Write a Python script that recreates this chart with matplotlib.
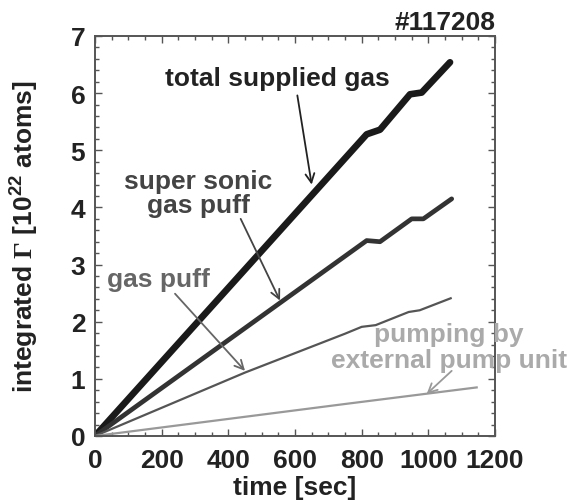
import matplotlib
matplotlib.use("Agg")
import matplotlib.pyplot as plt
from matplotlib.ticker import MultipleLocator

plt.rcParams["font.family"] = ["Liberation Sans", "DejaVu Sans"]
plt.rcParams["font.weight"] = "bold"
plt.rcParams["mathtext.fontset"] = "custom"
plt.rcParams["mathtext.rm"] = "Liberation Serif"
plt.rcParams["mathtext.bf"] = "Liberation Sans:bold"

# ── data ───────────────────────────────────────────────
total_t = [0, 815, 855, 945, 980, 1065]
total_g = [0, 5.28, 5.36, 5.98, 6.01, 6.54]

sonic_t = [0, 815, 855, 950, 985, 1070]
sonic_g = [0, 3.42, 3.40, 3.80, 3.80, 4.15]

puff_t = [0, 450, 750, 800, 842, 941, 974, 1067]
puff_g = [0, 1.11, 1.79, 1.91, 1.94, 2.17, 2.20, 2.41]

pump_t = [0, 750, 995, 1145]
pump_g = [0, 0.56, 0.74, 0.85]

shot = "#117208"

FS = 19

fig = plt.figure(figsize=(5.73, 5.02), dpi=100)
ax = fig.add_axes([0.1658, 0.1295, 0.6981, 0.7968])

ax.plot(total_t, total_g, color="#1a1a1a", lw=4.8, solid_capstyle="round", solid_joinstyle="round")
ax.plot(sonic_t, sonic_g, color="#333333", lw=3.4, solid_capstyle="round", solid_joinstyle="round")
ax.plot(puff_t, puff_g, color="#555555", lw=1.6)
ax.plot(pump_t, pump_g, color="#999999", lw=1.6)

ax.set_xlim(0, 1200)
ax.set_ylim(0, 7)
ax.xaxis.set_major_locator(MultipleLocator(200))
ax.xaxis.set_minor_locator(MultipleLocator(50))
ax.yaxis.set_major_locator(MultipleLocator(1))
ax.yaxis.set_minor_locator(MultipleLocator(0.2))
ax.tick_params(which="both", direction="in", top=True, right=True, color="#555555", width=1.0)
ax.tick_params(which="major", length=5, labelsize=FS)
ax.tick_params(axis="x", which="major", pad=9)
ax.tick_params(axis="y", which="major", pad=7)
ax.tick_params(which="minor", length=3)
for s in ax.spines.values():
    s.set_color("#555555")
    s.set_linewidth(1.4)

ax.set_xlabel("time [sec]", fontsize=FS, fontweight="bold", color="#222222")
ax.set_ylabel(r"integrated $\Gamma$ [10$^{\mathbf{22}}$ atoms]", fontsize=FS,
              fontweight="bold", color="#222222")
ax.xaxis.set_label_coords(0.5, -0.098)
ax.yaxis.set_label_coords(-0.137, 0.5)
for lbl in ax.get_xticklabels() + ax.get_yticklabels():
    lbl.set_fontweight("bold")
    lbl.set_color("#222222")

# annotations
arrow = dict(arrowstyle="->", lw=1.3, shrinkA=0, shrinkB=0, mutation_scale=16)
ax.text(546, 6.27, "total supplied gas", fontsize=FS, fontweight="bold",
        color="#222222", ha="center", va="center")
ax.annotate("", xy=(650, 4.40), xytext=(607, 5.96),
            arrowprops=dict(arrow, color="#222222"))

ax.text(310, 4.25, "super sonic\ngas puff", fontsize=FS, fontweight="bold",
        color="#444444", ha="center", va="center", linespacing=1.0)
ax.annotate("", xy=(555, 2.37), xytext=(437, 3.80),
            arrowprops=dict(arrow, color="#444444"))

ax.text(190, 2.75, "gas puff", fontsize=FS, fontweight="bold",
        color="#666666", ha="center", va="center")
ax.annotate("", xy=(450, 1.14), xytext=(240, 2.49),
            arrowprops=dict(arrow, color="#666666"))

ax.text(1062, 1.55, "pumping by\nexternal pump unit", fontsize=FS, fontweight="bold",
        color="#aaaaaa", ha="center", va="center", linespacing=1.1, clip_on=False)
ax.annotate("", xy=(995, 0.735), xytext=(1070, 1.14),
            arrowprops=dict(arrow, color="#999999"))

fig.text(0.8639, 0.955, shot, fontsize=FS, fontweight="bold", color="#222222",
         ha="right", va="center")

fig.savefig("out.png", dpi=100)
